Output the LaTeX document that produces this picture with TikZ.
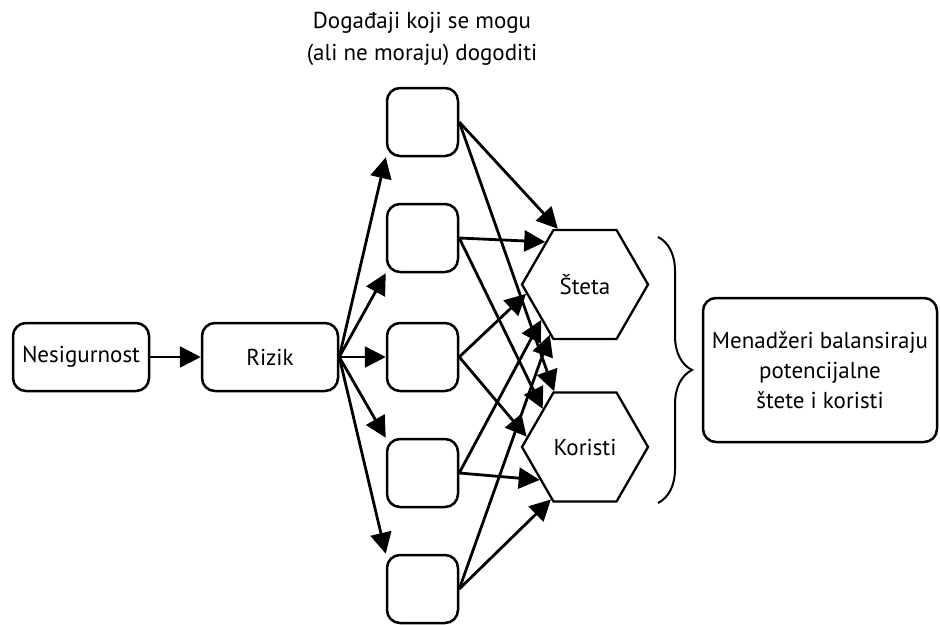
\documentclass[tikz,border=0pt]{standalone}
\usepackage{fontspec}
\setmainfont{PT Sans}
\usetikzlibrary{arrows.meta}
\usetikzlibrary{shapes.geometric}
\usetikzlibrary{decorations.pathreplacing}

\begin{document}
\begin{tikzpicture}[x=1pt, y=-1pt,
        every node/.style={font=\fontsize{23}{30}\selectfont},
        box/.style={rectangle, draw, rounded corners=13pt, line width=2.5pt, inner sep=0pt},
        hexa/.style={regular polygon, regular polygon sides=6, draw, line width=2.3pt,
            minimum size=126pt, inner sep=0pt},
        arr/.style={-{Triangle[length=21pt,width=21pt]}, line width=2.8pt}]
        \useasboundingbox (0,0) rectangle (940,624);

        \node[align=center, font=\fontsize{23}{32}\selectfont] (naslov) at (422,39)
            {Događaji koji se mogu\\(ali ne moraju) dogoditi};

        \node[box, minimum width=136pt, minimum height=68pt] (nes) at (81,357) {Nesigurnost};
        \node[box, minimum width=136pt, minimum height=68pt] (rizik) at (270,357) {Rizik};

        % events
        \foreach \i/\y in {1/122, 2/238, 3/357, 4/473, 5/589}
            \node[box, minimum width=71pt, minimum height=68pt] (ev\i) at (422.5,\y) {};

        \node[hexa] (steta) at (585,284.5) {Šteta};
        \node[hexa] (koristi) at (585,447) {Koristi};

        \node[box, minimum width=234pt, minimum height=144pt, align=center] (men)
            at (820,370) {Menadžeri balansiraju\\potencijalne\\štete i koristi};

        \draw[arr] (nes) -- (rizik);
        \foreach \i/\a in {1/south west, 2/south west, 3/west, 4/north west, 5/north west}
            \draw[arr] (rizik.east) -- (ev\i.\a);

        % every event can go both ways
        \foreach \i/\s/\k in {1/116/119, 2/133/138, 3/189/170, 4/219/216, 5/235/237} {
            \draw[arr] (ev\i.east) -- (steta.\s);
            \draw[arr] (ev\i.east) -- (koristi.\k);
        }

        \coordinate (bt) at (658,237);
        \coordinate (bb) at (658,503);
        \draw[decorate, decoration={brace, amplitude=34pt}, line width=2pt] (bt) -- (bb);

    \end{tikzpicture}
\end{document}
